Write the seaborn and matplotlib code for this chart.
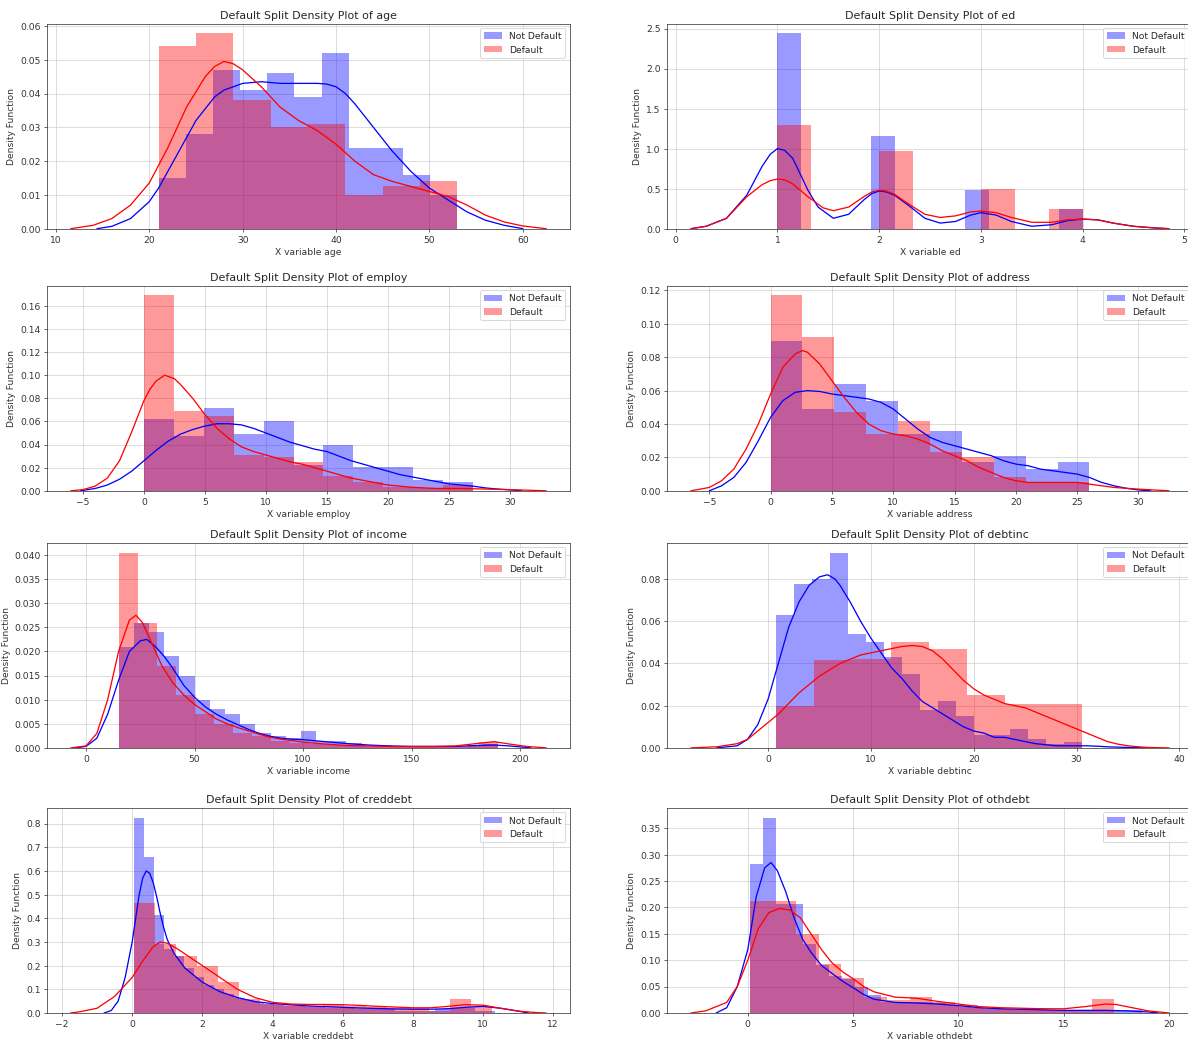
import numpy as np
import matplotlib
matplotlib.use("Agg")
import matplotlib.pyplot as plt
from matplotlib.patches import Patch
import seaborn as sns

# ---------------- data ----------------
variables = ["age", "ed", "employ", "address", "income", "debtinc", "creddebt", "othdebt"]
series_labels = ["Not Default", "Default"]

# histogram bin range (lo, hi) and bar heights (density); number of bins = len(heights)
age_nd_range = (21, 53)
age_nd_heights = [0.015, 0.028, 0.047, 0.041, 0.046, 0.039, 0.052, 0.024, 0.024, 0.016, 0.010]
age_d_range = (21, 53)
age_d_heights = [0.054, 0.0578, 0.038, 0.030, 0.031, 0.010, 0.0125, 0.014]

ed_nd_range = (1, 4)
ed_nd_heights = [2.44, 0, 0, 0, 1.16, 0, 0, 0, 0.48, 0, 0, 0, 0.24]
ed_d_range = (1, 4)
ed_d_heights = [1.29, 0, 0, 0.97, 0, 0, 0.49, 0, 0.24]

employ_nd_range = (0, 27)
employ_nd_heights = [0.062, 0.047, 0.072, 0.049, 0.060, 0.022, 0.040, 0.0207, 0.0207, 0.009, 0.0076]
employ_d_range = (0, 27)
employ_d_heights = [0.169, 0.069, 0.0645, 0.031, 0.029, 0.025, 0.013, 0.008, 0.003, 0.002, 0.005]

address_nd_range = (0, 26)
address_nd_heights = [0.090, 0.049, 0.064, 0.054, 0.034, 0.036, 0.017, 0.021, 0.013, 0.017]
address_d_range = (0, 26)
address_d_heights = [0.117, 0.092, 0.047, 0.034, 0.042, 0.023, 0.020, 0.008, 0.005, 0.005]

income_nd_range = (15, 190)
income_nd_heights = [0.021, 0.026, 0.024, 0.019, 0.015, 0.010, 0.008, 0.007, 0.005, 0.003,
                     0.0025, 0.002, 0.0034, 0.0015, 0.0015, 0.001, 0.0006, 0.0005, 0.0004, 0.0004,
                     0.0003, 0.0003, 0.0002, 0.0006, 0.0008]
income_d_range = (15, 190)
income_d_heights = [0.0405, 0.026, 0.017, 0.011, 0.007, 0.005, 0.003, 0.0025, 0.0015, 0.001,
                    0.0008, 0.0005, 0.0003, 0.0002, 0.0002, 0.0002, 0.0002, 0.0002, 0.0004, 0.0012]

debtinc_nd_range = (0.8, 30.5)
debtinc_nd_heights = [0.063, 0.0775, 0.080, 0.0925, 0.054, 0.050, 0.043, 0.035, 0.018, 0.022,
                      0.015, 0.006, 0.006, 0.009, 0.004, 0.002, 0.003]
debtinc_d_range = (0.8, 30.5)
debtinc_d_heights = [0.020, 0.0415, 0.042, 0.050, 0.047, 0.025, 0.021, 0.021]

creddebt_nd_range = (0.05, 10.346)
creddebt_nd_heights = [0.825, 0.66, 0.414, 0.27, 0.24, 0.19, 0.15, 0.12, 0.10, 0.08,
                       0.065, 0.055, 0.045, 0.04, 0.035, 0.03, 0.03, 0.025, 0.025, 0.02,
                       0.02, 0.02, 0.015, 0.015, 0.015, 0.015, 0.01, 0.01, 0.01, 0.01,
                       0.015, 0.02, 0.02, 0.02, 0.01, 0.01]
creddebt_d_range = (0.05, 10.25)
creddebt_d_heights = [0.463, 0.29, 0.24, 0.20, 0.13, 0.06, 0.04, 0.035, 0.03, 0.035,
                      0.03, 0.025, 0.02, 0.02, 0.01, 0.06, 0.03]

othdebt_nd_range = (0.12, 18.72)
othdebt_nd_heights = [0.282, 0.37, 0.206, 0.206, 0.13, 0.09, 0.07, 0.065, 0.05, 0.035,
                      0.02, 0.02, 0.02, 0.02, 0.018, 0.015, 0.012, 0.01, 0.008, 0.008,
                      0.006, 0.006, 0.006, 0.005, 0.005, 0.005, 0.005, 0.005, 0.006, 0.005]
othdebt_d_range = (0.12, 17.4)
othdebt_d_heights = [0.213, 0.213, 0.15, 0.093, 0.067, 0.03, 0.025, 0.03, 0.02, 0.015,
                     0.01, 0.008, 0.01, 0.005, 0.005, 0.027]

# KDE curves (x, density)
age_nd_kde_x = [14.4, 16, 18, 20, 21, 23, 25, 27, 28, 29, 30, 32, 34, 36, 38, 39, 40, 41, 42, 44, 46, 48, 50,
                52, 54, 56, 58, 60]
age_nd_kde_y = [0, 0.0007, 0.003, 0.008, 0.012, 0.022, 0.032, 0.039, 0.041, 0.042, 0.043, 0.0435, 0.043,
                0.043, 0.043, 0.0428, 0.042, 0.040, 0.037, 0.030, 0.023, 0.017, 0.012, 0.0085, 0.005, 0.0025,
                0.001, 0.0]
age_d_kde_x = [11.6, 14, 16, 18, 20, 22, 24, 26, 27, 28, 29, 30, 32, 34, 36, 38, 40, 42, 44, 46, 48, 50, 52,
               54, 56, 58, 60, 62.5]
age_d_kde_y = [0, 0.001, 0.003, 0.007, 0.0135, 0.024, 0.036, 0.045, 0.048, 0.0495, 0.0488, 0.047, 0.042,
               0.036, 0.032, 0.029, 0.025, 0.020, 0.016, 0.014, 0.0125, 0.011, 0.0095, 0.007, 0.004, 0.002,
               0.0008, 0]

ed_nd_kde_x = [0.15, 0.3, 0.5, 0.7, 0.85, 0.93, 1.0, 1.07, 1.15, 1.2, 1.3, 1.4, 1.55, 1.7, 1.85, 1.93, 2.0,
               2.07, 2.15, 2.3, 2.45, 2.6, 2.75, 2.9, 3.0, 3.15, 3.3, 3.5, 3.7, 3.85, 4.0, 4.15, 4.3, 4.5,
               4.7, 4.85]
ed_nd_kde_y = [0.0, 0.03, 0.13, 0.42, 0.78, 0.93, 1.0, 0.98, 0.88, 0.75, 0.48, 0.27, 0.13, 0.18, 0.36, 0.44,
               0.47, 0.46, 0.42, 0.28, 0.13, 0.07, 0.09, 0.17, 0.20, 0.17, 0.09, 0.03, 0.05, 0.10, 0.12,
               0.11, 0.07, 0.03, 0.01, 0.0]
ed_d_kde_x = [0.15, 0.3, 0.5, 0.7, 0.85, 0.93, 1.0, 1.07, 1.15, 1.3, 1.45, 1.55, 1.7, 1.85, 1.93, 2.0, 2.07,
              2.15, 2.3, 2.45, 2.6, 2.75, 2.9, 3.0, 3.15, 3.3, 3.5, 3.7, 3.85, 4.0, 4.15, 4.3, 4.5, 4.7, 4.85]
ed_d_kde_y = [0.0, 0.03, 0.13, 0.40, 0.55, 0.60, 0.62, 0.61, 0.56, 0.40, 0.26, 0.225, 0.27, 0.40, 0.46,
              0.48, 0.47, 0.43, 0.30, 0.18, 0.14, 0.16, 0.21, 0.22, 0.20, 0.14, 0.08, 0.08, 0.11, 0.12, 0.11,
              0.07, 0.03, 0.01, 0.0]

employ_nd_kde_x = [-5.2, -4, -3, -2, -1, 0, 1, 2, 3, 4, 5, 6, 7, 8, 9, 10, 11, 12, 13, 14, 15, 16, 17, 18,
                   19, 20, 21, 22, 23, 24, 25, 26, 27, 28, 29, 30, 31]
employ_nd_kde_y = [0, 0.002, 0.005, 0.010, 0.017, 0.026, 0.035, 0.043, 0.049, 0.053, 0.056, 0.058, 0.058,
                   0.057, 0.054, 0.050, 0.046, 0.042, 0.039, 0.036, 0.034, 0.030, 0.026, 0.023, 0.020, 0.017,
                   0.014, 0.012, 0.010, 0.008, 0.006, 0.005, 0.004, 0.0025, 0.0015, 0.0008, 0]
employ_d_kde_x = [-6, -5, -4, -3, -2, -1, 0, 0.5, 1, 1.7, 2.5, 3, 4, 5, 6, 7, 8, 9, 10, 11, 12, 13, 14, 15,
                  16, 17, 18, 19, 20, 21, 22, 24, 26, 28, 30, 33]
employ_d_kde_y = [0, 0.001, 0.004, 0.011, 0.026, 0.051, 0.078, 0.088, 0.095, 0.100, 0.097, 0.092, 0.080,
                  0.066, 0.054, 0.045, 0.038, 0.034, 0.031, 0.028, 0.025, 0.023, 0.020, 0.017, 0.014, 0.011,
                  0.009, 0.007, 0.005, 0.004, 0.003, 0.002, 0.002, 0.0015, 0.001, 0]

address_nd_kde_x = [-5, -4, -3, -2, -1, 0, 1, 2, 3, 4, 5, 6, 7, 8, 9, 10, 11, 12, 13, 14, 15, 16, 17, 18,
                    19, 20, 21, 22, 23, 24, 25, 26, 27, 28, 29, 30, 31]
address_nd_kde_y = [0, 0.003, 0.008, 0.017, 0.030, 0.044, 0.054, 0.059, 0.060, 0.0595, 0.058, 0.057, 0.056,
                    0.055, 0.053, 0.049, 0.043, 0.037, 0.032, 0.029, 0.027, 0.025, 0.023, 0.021, 0.018, 0.016,
                    0.015, 0.013, 0.012, 0.011, 0.010, 0.008, 0.005, 0.003, 0.0015, 0.0005, 0]
address_d_kde_x = [-6.5, -5, -4, -3, -2, -1, 0, 1, 2, 2.6, 3, 4, 5, 6, 7, 8, 9, 10, 11, 12, 13, 14, 15, 16,
                   17, 18, 19, 20, 21, 22, 23, 24, 25, 26, 27, 28, 30, 32.5]
address_d_kde_y = [0, 0.002, 0.006, 0.013, 0.025, 0.040, 0.058, 0.074, 0.082, 0.084, 0.083, 0.076, 0.066,
                   0.056, 0.047, 0.040, 0.036, 0.034, 0.033, 0.031, 0.028, 0.024, 0.021, 0.018, 0.014, 0.011,
                   0.008, 0.006, 0.005, 0.005, 0.005, 0.005, 0.005, 0.004, 0.003, 0.002, 0.001, 0]

income_nd_kde_x = [-5, 0, 5, 10, 15, 20, 25, 28, 32, 36, 40, 45, 50, 55, 60, 65, 70, 75, 80, 85, 90, 95, 100,
                   105, 110, 115, 120, 130, 140, 150, 160, 170, 180, 188, 195, 200, 205]
income_nd_kde_y = [0, 0.0003, 0.002, 0.007, 0.014, 0.020, 0.0222, 0.0225, 0.021, 0.019, 0.0165, 0.013, 0.0105,
                   0.0085, 0.007, 0.0058, 0.0048, 0.0038, 0.003, 0.0024, 0.002, 0.0018, 0.0017, 0.0015, 0.0013,
                   0.0011, 0.0009, 0.0006, 0.0004, 0.0003, 0.0003, 0.0003, 0.0005, 0.0006, 0.0004, 0.0002, 0]
income_d_kde_x = [-7, 0, 5, 10, 15, 20, 23, 26, 30, 35, 40, 45, 50, 55, 60, 65, 70, 75, 80, 85, 90, 95, 100,
                  110, 120, 130, 140, 150, 160, 170, 180, 188, 195, 203, 212]
income_d_kde_y = [0, 0.0004, 0.003, 0.010, 0.020, 0.0265, 0.0275, 0.026, 0.022, 0.017, 0.0135, 0.011, 0.009,
                  0.0075, 0.006, 0.005, 0.0042, 0.0035, 0.0028, 0.0022, 0.0018, 0.0015, 0.0012, 0.0008, 0.0005,
                  0.0004, 0.0003, 0.0003, 0.0003, 0.0004, 0.0009, 0.0013, 0.0008, 0.0003, 0]

debtinc_nd_kde_x = [-5, -3, -2, -1, 0, 1, 2, 3, 4, 5, 5.8, 6.5, 7, 8, 9, 10, 11, 12, 13, 14, 15, 16, 17, 18,
                    19, 20, 21, 22, 23, 24, 25, 26, 27, 28, 29, 30, 31, 32, 33, 35, 37]
debtinc_nd_kde_y = [0, 0.001, 0.004, 0.011, 0.023, 0.040, 0.057, 0.069, 0.077, 0.081, 0.082, 0.080, 0.077,
                    0.069, 0.060, 0.052, 0.045, 0.038, 0.033, 0.027, 0.022, 0.019, 0.016, 0.013, 0.010, 0.008,
                    0.007, 0.005, 0.005, 0.004, 0.003, 0.002, 0.0015, 0.001, 0.001, 0.001, 0.001, 0.0008,
                    0.0005, 0.0002, 0]
debtinc_d_kde_x = [-7.5, -5, -3, -2, -1, 0, 1, 2, 3, 4, 5, 6, 7, 8, 9, 10, 11, 12, 13, 14, 15, 16, 17, 18,
                   19, 20, 21, 22, 23, 24, 25, 26, 27, 28, 29, 30, 31, 32, 33, 34, 35, 36, 37, 39]
debtinc_d_kde_y = [0, 0.0005, 0.002, 0.004, 0.008, 0.012, 0.016, 0.021, 0.026, 0.030, 0.034, 0.037, 0.040,
                   0.042, 0.044, 0.045, 0.046, 0.047, 0.048, 0.0485, 0.048, 0.046, 0.042, 0.037, 0.032, 0.028,
                   0.025, 0.023, 0.021, 0.020, 0.019, 0.017, 0.015, 0.013, 0.011, 0.009, 0.007, 0.005, 0.003,
                   0.0018, 0.001, 0.0005, 0.0002, 0]

creddebt_nd_kde_x = [-0.8, -0.6, -0.4, -0.2, 0, 0.1, 0.2, 0.3, 0.4, 0.5, 0.6, 0.7, 0.8, 0.9, 1.0, 1.2, 1.5,
                     2.0, 2.5, 3.0, 3.5, 4.0, 4.5, 5.0, 5.5, 6.0, 6.5, 7.0, 7.5, 8.0, 8.5, 9.0, 9.5, 10.0,
                     10.5, 11.0, 11.3]
creddebt_nd_kde_y = [0, 0.01, 0.05, 0.15, 0.30, 0.40, 0.50, 0.57, 0.60, 0.59, 0.55, 0.49, 0.42, 0.36, 0.31,
                     0.25, 0.19, 0.13, 0.09, 0.065, 0.048, 0.04, 0.035, 0.03, 0.027, 0.024, 0.021, 0.019,
                     0.017, 0.016, 0.016, 0.018, 0.024, 0.028, 0.02, 0.008, 0]
creddebt_d_kde_x = [-1.75, -1.5, -1.0, -0.5, 0, 0.3, 0.6, 0.8, 1.0, 1.3, 1.6, 2.0, 2.5, 3.0, 3.5, 4.0, 4.5,
                    5.0, 5.5, 6.0, 6.5, 7.0, 7.5, 8.0, 8.5, 9.0, 9.5, 10.0, 10.5, 11.0, 11.5, 11.8]
creddebt_d_kde_y = [0, 0.005, 0.02, 0.07, 0.15, 0.22, 0.28, 0.30, 0.295, 0.27, 0.24, 0.20, 0.15, 0.10, 0.065,
                    0.045, 0.038, 0.036, 0.036, 0.035, 0.032, 0.028, 0.025, 0.022, 0.022, 0.028, 0.035, 0.033,
                    0.02, 0.008, 0.002, 0]

othdebt_nd_kde_x = [-1.5, -1.0, -0.5, 0, 0.4, 0.8, 1.1, 1.4, 1.8, 2.2, 2.6, 3.0, 3.5, 4.0, 4.5, 5.0, 5.5, 6.0,
                    7, 8, 9, 10, 11, 12, 13, 14, 15, 16, 17, 18, 19, 19.5]
othdebt_nd_kde_y = [0, 0.01, 0.05, 0.12, 0.22, 0.275, 0.285, 0.27, 0.23, 0.18, 0.14, 0.115, 0.09, 0.075, 0.06,
                    0.048, 0.035, 0.026, 0.02, 0.019, 0.017, 0.014, 0.01, 0.008, 0.007, 0.006, 0.005, 0.005,
                    0.005, 0.004, 0.002, 0]
othdebt_d_kde_x = [-2.7, -2, -1, -0.5, 0, 0.5, 1.0, 1.5, 2.0, 2.5, 3.0, 3.5, 4.0, 4.5, 5.0, 5.5, 6.0, 7, 8, 9,
                   10, 11, 12, 13, 14, 15, 16, 17, 17.5, 18, 19, 20]
othdebt_d_kde_y = [0, 0.004, 0.02, 0.05, 0.10, 0.16, 0.19, 0.198, 0.195, 0.18, 0.15, 0.12, 0.095, 0.078, 0.065,
                   0.05, 0.04, 0.03, 0.028, 0.022, 0.017, 0.012, 0.01, 0.009, 0.008, 0.008, 0.012, 0.017, 0.016,
                   0.012, 0.004, 0]

# ---------------- assemble ----------------
g = globals()
panels = []
for v in variables:
    panels.append({
        "name": v,
        "series": [
            (g[f"{v}_nd_range"], g[f"{v}_nd_heights"], g[f"{v}_nd_kde_x"], g[f"{v}_nd_kde_y"]),
            (g[f"{v}_d_range"], g[f"{v}_d_heights"], g[f"{v}_d_kde_x"], g[f"{v}_d_kde_y"]),
        ],
    })

# ---------------- style ----------------
sns.set_style("whitegrid", {
    "axes.edgecolor": "0.2",
    "axes.linewidth": 0.8,
    "grid.color": "0.82",
    "grid.linewidth": 0.8,
    "xtick.bottom": True,
    "ytick.left": True,
    "xtick.color": "0.2",
    "ytick.color": "0.2",
    "axes.labelcolor": "0.2",
    "text.color": "0.15",
})
plt.rcParams["font.family"] = ["DejaVu Sans"]
plt.rcParams["font.size"] = 10
plt.rcParams["xtick.major.size"] = 3.5
plt.rcParams["ytick.major.size"] = 3.5

DPI = 66
fig = plt.figure(figsize=(1188 / DPI, 1042.4 / DPI), dpi=DPI)

col_left = [47 / 1188, 667 / 1188]
col_w = [523 / 1188, 526 / 1188]
row_bottom = [1 - 229 / 1042, 1 - 491 / 1042, 1 - 748 / 1042, 1 - 1013 / 1042]
ax_h = 205 / 1042

colors = ["blue", "red"]

for i, p in enumerate(panels):
    r, c = divmod(i, 2)
    ax = fig.add_axes([col_left[c], row_bottom[r], col_w[c], ax_h])
    for (rng, heights, kx, ky), col, lab in zip(p["series"], colors, series_labels):
        lo, hi = rng
        n = len(heights)
        edges = np.linspace(lo, hi, n + 1)
        centers = (edges[:-1] + edges[1:]) / 2
        sns.histplot(x=centers, weights=heights, bins=n, binrange=(lo, hi), stat="count",
                     color=col, alpha=0.4, linewidth=0, edgecolor="none", ax=ax)
        sns.lineplot(x=kx, y=ky, color=col, linewidth=1.4, ax=ax)
    ax.set_title(f"Default Split Density Plot of {p['name']}", fontsize=12)
    ax.set_xlabel(f"X variable {p['name']}", fontsize=10)
    ax.set_ylabel("Density Function", fontsize=10)
    ax.tick_params(labelsize=10)
    handles = [Patch(facecolor=col, alpha=0.4, edgecolor="none") for col in colors]
    ax.legend(handles, series_labels, loc="upper right", fontsize=10, frameon=True)

fig.savefig("out.png", dpi=DPI)
